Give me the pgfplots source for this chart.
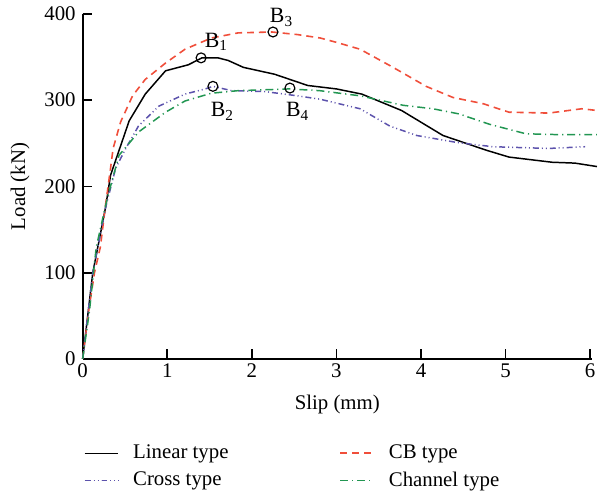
\documentclass[border=0pt]{standalone}
\usepackage{pgfplots}
\pgfplotsset{compat=1.18}
\usepackage{fontspec}
\setmainfont{Liberation Serif}
\definecolor{cbred}{RGB}{240,78,58}
\definecolor{crossblue}{RGB}{92,82,172}
\definecolor{changreen}{RGB}{34,150,82}
\begin{document}
\begin{tikzpicture}
\begin{axis}[
  scale only axis,
  width=256.8pt, height=174pt,
  xmin=0, xmax=6.02, ymin=0, ymax=400,
  axis lines=left,
  axis line style={-, line width=0.9pt},
  tick style={line width=0.9pt, black},
  tick align=inside,
  major tick length=4.8pt,
  xtick={0,1,2,3,4,5,6},
  ytick={0,100,200,300,400},
  /pgf/number format/assume math mode=true,
  ticklabel style={font=\fontsize{10.5}{12}\selectfont},
  xticklabel style={yshift=1pt},
  xlabel={Slip (mm)}, ylabel={Load (kN)},
  label style={font=\fontsize{10.5}{12}\selectfont},
  xlabel style={at={(axis description cs:0.5,-0.132)}, anchor=center},
  ylabel style={at={(axis description cs:-0.123,0.5)}, anchor=center},
  clip=false,
  legend columns=2,
  legend cell align=left,
  legend style={at={(axis description cs:-0.01,-0.225)}, anchor=north west, draw=none, fill=none,
    font=\fontsize{10.5}{12}\selectfont, row sep=1pt,
    /tikz/every odd column/.append style={column sep=5pt},
    /tikz/every even column/.append style={column sep=54pt}},
]
\addplot[black, line width=0.75pt] coordinates {
(0,0)(0.12,100)(0.27,175)(0.33,213)(0.55,276)(0.74,307)(0.98,334)(1.25,341)(1.41,349)(1.6,349)(1.72,346)(1.9,338)(2.27,330)(2.66,317)(3.0,313)(3.3,307)(3.77,288)(4.26,259)(4.77,242)(5.04,234)(5.55,228)(5.82,227)(6.08,223)};
\addlegendentry{Linear type}
\addplot[cbred, line width=0.8pt, dash pattern=on 3.5pt off 2.5pt] coordinates {
(0,0)(0.07,55)(0.14,100)(0.21,130)(0.27,178)(0.33,221)(0.36,244)(0.45,275)(0.59,305)(0.74,324)(0.98,343)(1.21,359)(1.52,372)(1.84,378)(2.24,379)(2.54,376)(2.81,372)(3.0,367)(3.28,359)(3.67,338)(4.06,316)(4.38,303)(4.73,296)(5.04,286)(5.51,285)(5.90,290)(6.08,288)};
\addlegendentry{CB type}
\addplot[crossblue, line width=0.75pt, dash pattern=on 3pt off 1.5pt on 0.5pt off 1.5pt on 0.5pt off 1.5pt] coordinates {
(0,0)(0.12,100)(0.27,175)(0.39,221)(0.51,244)(0.66,270)(0.9,293)(1.21,307)(1.45,313)(1.54,316)(1.76,311)(2.15,310)(2.54,305)(2.81,301)(3.28,290)(3.63,270)(3.95,259)(4.42,251)(4.85,246)(5.51,244)(5.94,246)};
\addlegendentry{Cross type}
\addplot[changreen, line width=0.75pt, dash pattern=on 4pt off 2pt on 0.6pt off 2pt] coordinates {
(0,0)(0.08,55)(0.16,129)(0.29,186)(0.43,236)(0.66,263)(0.98,286)(1.21,299)(1.52,308)(1.84,311)(2.15,312)(2.44,313)(2.8,311)(3.28,305)(3.79,294)(4.14,290)(4.45,284)(4.81,272)(5.24,261)(5.63,260)(6.08,260)};
\addlegendentry{Channel type}
\addplot[only marks, mark=o, mark size=2.5pt, mark options={black, fill=white, line width=0.6pt}, forget plot] coordinates {
(1.40,349)(1.54,316)(2.25,379)(2.45,314)};
\node[anchor=base west, inner sep=0, font=\fontsize{11}{13}\selectfont] at (axis cs:1.44,361) {B\textsubscript{1}};
\node[anchor=base west, inner sep=0, font=\fontsize{11}{13}\selectfont] at (axis cs:1.51,280.5) {B\textsubscript{2}};
\node[anchor=base west, inner sep=0, font=\fontsize{11}{13}\selectfont] at (axis cs:2.21,389.7) {B\textsubscript{3}};
\node[anchor=base west, inner sep=0, font=\fontsize{11}{13}\selectfont] at (axis cs:2.40,280.5) {B\textsubscript{4}};
\path[draw=none] (axis cs:-0.977,416.1) rectangle (axis cs:6.08,-149.4);
\end{axis}
\end{tikzpicture}
\end{document}
